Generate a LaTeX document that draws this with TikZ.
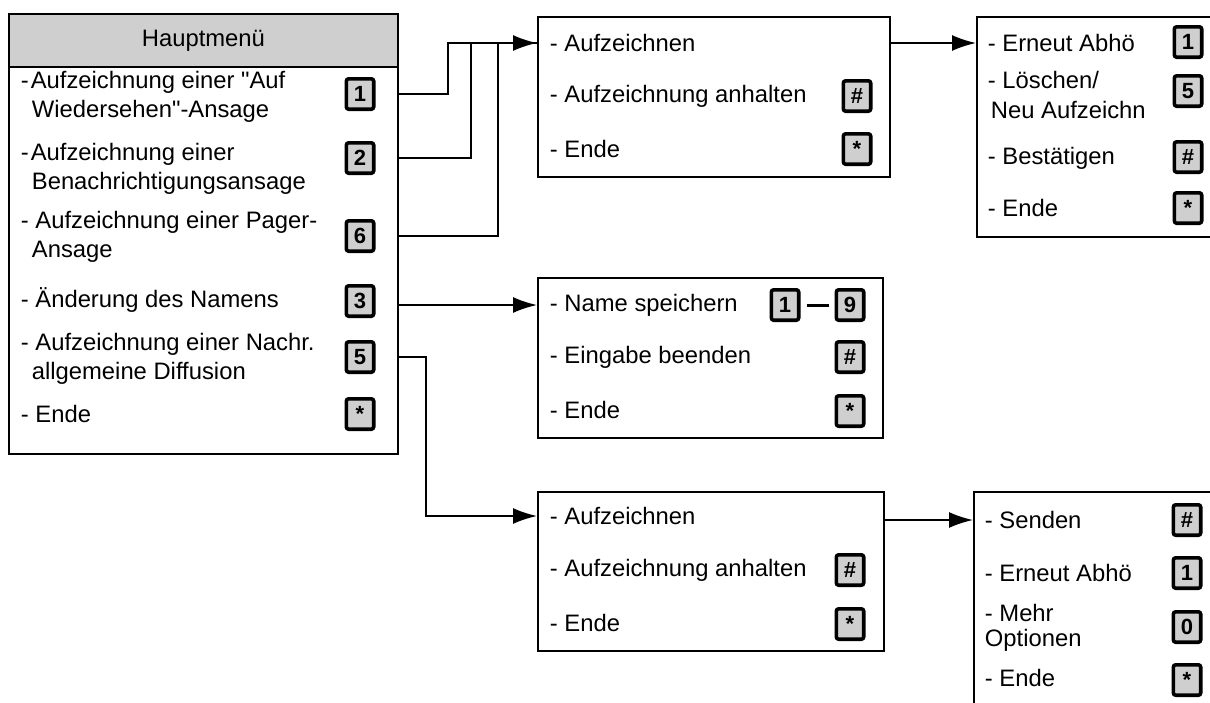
\documentclass[tikz,border=0pt]{standalone}
\usepackage{fontspec}
\setmainfont{Liberation Sans}
\usetikzlibrary{arrows.meta}
\newcommand{\ind}{\hspace*{5.5pt}}
\newcommand{\keystar}{\raisebox{-0.35ex}{*}}

\begin{document}
\begin{tikzpicture}[x=0.5pt, y=-0.5pt, line width=0.9pt,
	menu/.style={draw, anchor=north west, inner sep=0pt},
	item/.style={anchor=west, align=left, inner sep=0pt, font=\fontsize{11.9}{14.5}\selectfont},
	key/.style={draw, line width=1.8pt, rounded corners=1.2pt, fill=black!19, minimum width=13.7pt, minimum height=15.2pt, inner sep=0pt, font=\bfseries\fontsize{11}{12}\selectfont},
	link/.style={-{Latex[length=12pt, width=8pt]}}]
\useasboundingbox (0,0) rectangle (1210,702);
\clip (0,0) rectangle (1210,702);
% Hauptmenue
\node[menu, minimum width=194.5pt, minimum height=220pt] (main) at (8,13) {};
\node[menu, fill=black!19, minimum width=194.5pt, minimum height=26.5pt, font=\fontsize{11.9}{14.5}\selectfont] (head) at (8,13) {Hauptmenü};
\node[item] (itM1) at (20,97) {-\kern1pt Aufzeichnung einer \textquotedbl Auf\\\ind Wiedersehen\textquotedbl -Ansage};
\node[item] (itM2) at (20,169) {-\kern1pt Aufzeichnung einer\\\ind Benachrichtigungsansage};
\node[item] (itM3) at (20,237) {- Aufzeichnung einer Pager-\\\ind Ansage};
\node[item] (itM4) at (20,300) {- Änderung des Namens};
\node[item] (itM5) at (20,359) {- Aufzeichnung einer Nachr.\\\ind allgemeine Diffusion};
\node[item] (itM6) at (20,414) {- Ende};
\foreach \y/\k [count=\i] in {94/1,158/2,236/6,301/3,357/5,414/\keystar}
	\node[key] (kM\i) at (360,\y) {\k};
% Aufzeichnen (oben)
\node[menu, minimum width=176pt, minimum height=80pt] (recA) at (537,16) {};
\foreach \y/\t [count=\i] in {43/Aufzeichnen,96/Aufzeichnung anhalten,149/Ende}
	\node[item] (itA\i) at (549,\y) {- \t};
\node[key] (kA1) at (857,96) {\#};
\node[key] (kA2) at (857,149) {\keystar};
% Abhoeren
\node[menu, minimum width=130pt, minimum height=110pt] (recT) at (976,16) {};
\node[item] (itT1) at (987,43) {- Erneut Abhö};
\node[item, font=\fontsize{11.9}{15}\selectfont] (itT2) at (987,95) {- Löschen/\\\hspace*{1.5pt}Neu Aufzeichn};
\node[item] (itT3) at (987,158) {- Bestätigen};
\node[item] (itT4) at (987,208) {- Ende};
\foreach \y/\k [count=\i] in {42/1,91/5,157/\#,208/\keystar}
	\node[key] (kT\i) at (1188,\y) {\k};
% Name
\node[menu, minimum width=172.5pt, minimum height=80pt] (recN) at (537,277) {};
\foreach \y/\t [count=\i] in {305/Name speichern,357/Eingabe beenden,410/Ende}
	\node[item] (itN\i) at (549,\y) {- \t};
\node[key] (kN1) at (785,305) {1};
\node[key] (kN2) at (850,305) {9};
\node[key] (kN3) at (850,357) {\#};
\node[key] (kN4) at (850,411) {\keystar};
\draw[line width=1.5pt, shorten <=3pt, shorten >=3pt] (kN1.east) -- (kN2.west);
% Aufzeichnen (unten)
\node[menu, minimum width=173pt, minimum height=79.5pt] (recB) at (537,491) {};
\foreach \y/\t [count=\i] in {516/Aufzeichnen,570/Aufzeichnung anhalten,623/Ende}
	\node[item] (itB\i) at (549,\y) {- \t};
\node[key] (kB1) at (850,570) {\#};
\node[key] (kB2) at (850,624) {\keystar};
% Senden
\node[menu, minimum width=130pt, minimum height=120pt] (recR) at (973,491) {};
\node[item] (itR1) at (984,520) {- Senden};
\node[item] (itR2) at (984,573) {- Erneut Abhö};
\node[item, font=\fontsize{11.9}{12.5}\selectfont] (itR3) at (984,628) {- Mehr\\Optionen};
\node[item] (itR4) at (984,678) {- Ende};
\foreach \y/\k [count=\i] in {520/\#,573/1,627/0,680/\keystar}
	\node[key] (kR\i) at (1187,\y) {\k};
% Verbindungen
\draw[link] (main.east |- kM1) -- ++(49,0) |- (recA.west |- itA1);
\draw (main.east |- kM2) -- ++(72,0) |- (recA.west |- itA1);
\draw (main.east |- kM3) -- ++(99,0) |- (recA.west |- itA1);
\draw[link] (recA.east |- itA1) -- (recT.west |- itA1);
\draw[link] (main.east |- itN1) -- (recN.west |- itN1);
\draw[link] (main.east |- kM5) -- ++(27,0) |- (recB.west |- itB1);
\draw[link] (recB.east |- kR1) -- (recR.west |- kR1);
\end{tikzpicture}
\end{document}
